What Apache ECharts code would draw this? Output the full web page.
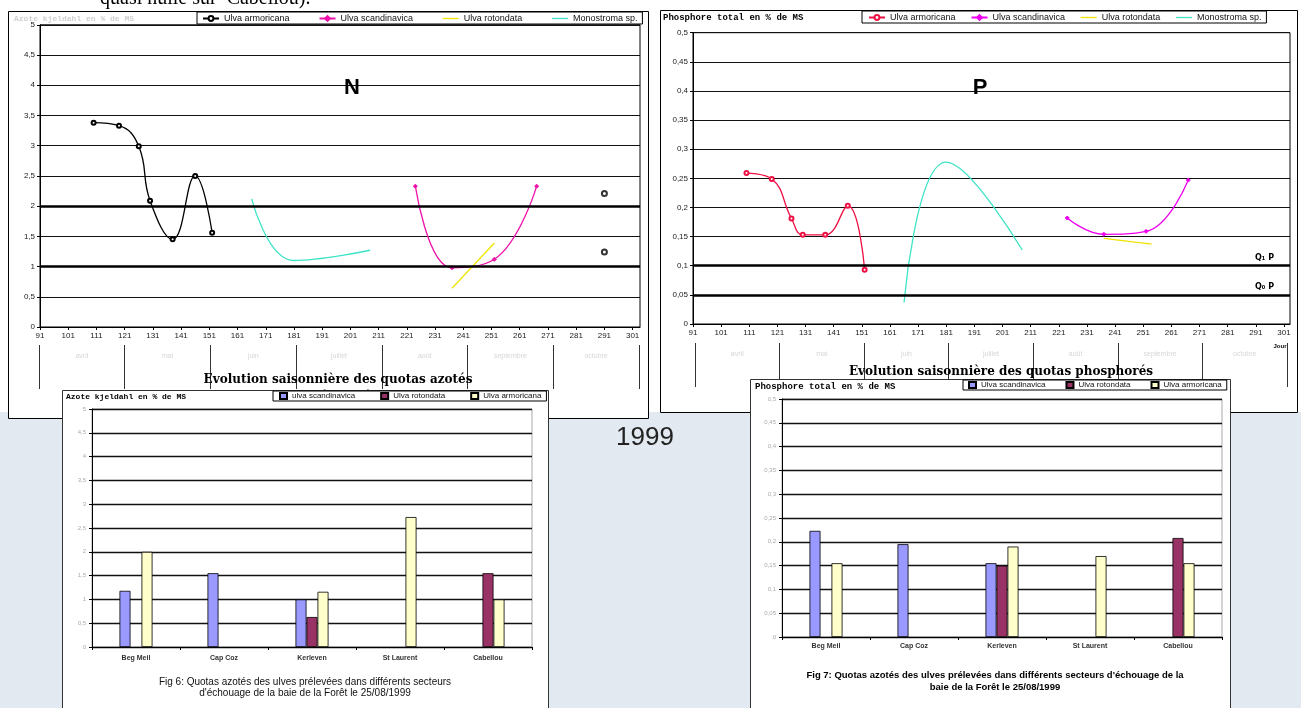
<!DOCTYPE html>
<html><head><meta charset="utf-8">
<script src="https://cdn.jsdelivr.net/npm/echarts@6/dist/echarts.min.js"></script>
<style>html,body{margin:0;padding:0;background:#fff}#c{width:1301px;height:708px}</style>
</head><body><div id="c"></div>
<script>
// ---------- DATA ----------
const DAY0 = 91; // first day shown on the x axes (day of year)
const months = ['avril','mai','juin','juillet','août','septembre','octobre'];

// N (azote) seasonal, % of dry matter
const nArmoDays = [110, 119, 126, 130, 138, 146, 152];
const nArmoVals = [3.38, 3.33, 2.99, 2.09, 1.45, 2.50, 1.56];
const nArmoLateDays = [291, 291];
const nArmoLateVals = [2.21, 1.24];
const nScanDays = [224, 237, 252, 267];
const nScanVals = [2.33, 0.98, 1.12, 2.33];
const nRotoDays = [237, 252];
const nRotoVals = [0.64, 1.39];
const nMonoDays = [166, 181, 208];
const nMonoVals = [2.12, 1.10, 1.27];

// P (phosphore) seasonal, % of dry matter
const pArmoDays = [110, 119, 126, 130, 138, 146, 152];
const pArmoVals = [0.259, 0.249, 0.181, 0.153, 0.153, 0.203, 0.093];
const pScanDays = [224, 237, 252, 267];
const pScanVals = [0.182, 0.154, 0.159, 0.247];
const pRotoDays = [237, 254];
const pRotoVals = [0.147, 0.137];
const pMonoDays = [166, 181, 208];
const pMonoVals = [0.037, 0.278, 0.127];

// Bars 25/08/1999
const sites = ['Beg Meil', 'Cap Coz', 'Kerleven', 'St Laurent', 'Cabellou'];
const barNScan = [1.18, 1.55, 1.00, null, null];
const barNRoto = [null, null, 0.63, null, 1.55];
const barNArmo = [2.00, null, 1.16, 2.73, 1.00];
const barPScan = [0.223, 0.195, 0.155, null, null];
const barPRoto = [null, null, 0.150, null, 0.208];
const barPArmo = [0.155, null, 0.190, 0.170, 0.155];

// thresholds
const nThresh = [2, 1];
const pThresh = [0.1, 0.05];

// ---------- BUILD ----------
const pts = (d, v) => d.map((x, i) => [x - DAY0, v[i]]);
const comma = v => String(+(+v).toFixed(3)).replace('.', ',');
const dayFmt = v => (Math.abs(v % 10) < 1e-6 ? String(Math.round(v) + DAY0) : '');
const ZW = '\u200b';

const C_BLACK = '#000000', C_RED = '#ee1144', C_MAG_N = '#ee11aa', C_MAG_P = '#ee00ee',
      C_YEL = '#f0e400', C_CYAN = '#3de3c6';
const C_BSCAN = '#9999ff', C_BROTO = '#993366', C_BARMO = '#ffffcc';

const tickFont = {fontSize: 8, color: '#222', fontFamily: 'Liberation Sans'};

function lineX(grid, max) {
  return {type: 'value', gridIndex: grid, min: 0, max: max, interval: 10, z: 2,
    axisLine: {show: true, lineStyle: {color: '#000', width: 1}},
    axisTick: {show: true, length: 3, lineStyle: {color: '#000'}},
    splitLine: {show: false},
    axisLabel: Object.assign({margin: 5, formatter: dayFmt, showMaxLabel: false}, tickFont)};
}
function lineY(grid, max, interval) {
  return {type: 'value', gridIndex: grid, min: 0, max: max, interval: interval, z: 2,
    axisLine: {show: true, lineStyle: {color: '#000', width: 1}},
    axisTick: {show: true, length: 3, lineStyle: {color: '#000'}},
    splitLine: {show: true, lineStyle: {color: '#111', width: 1.2}},
    axisLabel: Object.assign({margin: 5, formatter: comma}, tickFont)};
}
function monthX(grid) {
  return {type: 'category', gridIndex: grid, data: months, boundaryGap: true, z: 2,
    axisLine: {show: false},
    axisTick: {show: true, interval: 0, length: 44, lineStyle: {color: '#333', width: 1}},
    axisLabel: {interval: 0, margin: 8, fontSize: 7, color: '#d6d6d6', fontFamily: 'Liberation Sans'},
    splitLine: {show: false}};
}
function hiddenY(grid) { return {type: 'value', gridIndex: grid, show: false, min: 0, max: 1}; }
function barX(grid, margin) {
  return {type: 'category', gridIndex: grid, data: sites, z: 22,
    axisLine: {show: true, lineStyle: {color: '#000'}},
    axisTick: {show: true, interval: 0, length: 3, lineStyle: {color: '#000'}},
    axisLabel: {interval: 0, margin: margin, fontSize: 7, fontWeight: 'bold', color: '#333', fontFamily: 'Liberation Sans'},
    splitLine: {show: false}};
}
function barY(grid, max, interval) {
  return {type: 'value', gridIndex: grid, min: 0, max: max, interval: interval, z: 22,
    axisLine: {show: true, lineStyle: {color: '#000'}},
    axisTick: {show: true, length: 3, lineStyle: {color: '#000'}},
    splitLine: {show: true, lineStyle: {color: '#111', width: 1.3}},
    axisLabel: {margin: 6, fontSize: 6, color: '#aaa', formatter: comma, fontFamily: 'Liberation Sans'}};
}
function thickLines(vals, labels, padRight) {
  return {silent: true, symbol: 'none', animation: false,
    lineStyle: {color: '#000', width: 2.6, type: 'solid'},
    data: vals.map((v, i) => ({yAxis: v,
      label: labels ? {show: true, formatter: labels[i], position: 'insideEndTop', distance: 4,
        padding: [0, padRight || 0, 0, 0],
        fontSize: 8, fontWeight: 'bold', color: '#000', fontFamily: 'DejaVu Sans'} : {show: false}}))};
}
function lineSeries(name, x, y, data, color, symbol, extra) {
  return Object.assign({type: 'line', name: name, xAxisIndex: x, yAxisIndex: y, data: data,
    smooth: 0.45, z: 3, symbol: symbol || 'none', symbolSize: 4, showSymbol: !!symbol,
    lineStyle: {color: color, width: 1.3}, itemStyle: {color: color, borderColor: color, borderWidth: 1},
    emphasis: {disabled: true}}, extra || {});
}
function barSeries(name, x, y, data, color, extra) {
  return Object.assign({type: 'bar', name: name, xAxisIndex: x, yAxisIndex: y, data: data,
    barWidth: 11, barGap: '0%', z: 23,
    itemStyle: {color: color, borderColor: '#000', borderWidth: 0.8},
    emphasis: {disabled: true}}, extra || {});
}
// legend entries; plain-line series get a bare line icon
function lineLegendItems(names, colors) {
  return names.map((n, i) => i < 2 ? {name: n} :
    {name: n, icon: 'line', itemStyle: {color: colors[i], borderColor: colors[i], borderWidth: 1.3}});
}

const nLineNames = ['Ulva armoricana', 'Ulva scandinavica', 'Ulva rotondata', 'Monostroma sp.'];
const pLineNames = nLineNames.map(n => n + ZW);
const nBarNames = ['ulva scandinavica', 'Ulva rotondata' + ZW + ZW, 'Ulva armoricana' + ZW + ZW];
const pBarNames = ['Ulva scandinavica' + ZW + ZW, 'Ulva rotondata' + ZW + ZW + ZW, 'Ulva armoricana' + ZW + ZW + ZW];

const legendBase = {orient: 'horizontal', borderColor: '#000', borderWidth: 1, backgroundColor: '#fff',
  selectedMode: false,
  textStyle: {fontSize: 9, color: '#111', fontFamily: 'Liberation Sans'}};

const option = {
  animation: false,
  grid: [
    {left: 40, top: 24.8, width: 600, height: 302.2, show: true, borderColor: '#000', borderWidth: 1, z: 2},
    {left: 693, top: 32.7, width: 597, height: 291.3, show: true, borderColor: '#000', borderWidth: 1, z: 2},
    {left: 39, top: 335, width: 600, height: 10, z: 2},
    {left: 695, top: 333, width: 592, height: 10, z: 2},
    {left: 92, top: 409, width: 440, height: 238, show: true, borderColor: '#aaa', borderWidth: 1, z: 21},
    {left: 782, top: 399, width: 440, height: 238, show: true, borderColor: '#aaa', borderWidth: 1, z: 21}
  ],
  xAxis: [lineX(0, 600 / 2.822), lineX(1, 597 / 2.814), monthX(2), monthX(3), barX(4, 8), barX(5, 6)],
  yAxis: [lineY(0, 5, 0.5), lineY(1, 0.5, 0.05), hiddenY(2), hiddenY(3), barY(4, 5, 0.5), barY(5, 0.5, 0.05)],
  legend: [
    Object.assign({}, legendBase, {left: 197, top: 12, padding: [2, 5, 1, 5], itemWidth: 16, itemHeight: 6, itemGap: 29,
      data: lineLegendItems(nLineNames, [C_BLACK, C_MAG_N, C_YEL, C_CYAN]), z: 4}),
    Object.assign({}, legendBase, {left: 862, top: 11, padding: [2, 5, 1, 6], itemWidth: 16, itemHeight: 6, itemGap: 15,
      data: lineLegendItems(pLineNames, [C_RED, C_MAG_P, C_YEL, C_CYAN]), z: 4}),
    Object.assign({}, legendBase, {left: 273, top: 391, padding: [1, 5, 1, 6], itemWidth: 7, itemHeight: 6, icon: 'rect', itemGap: 25,
      textStyle: {fontSize: 8, color: '#111', fontFamily: 'Liberation Sans'},
      data: nBarNames, z: 24}),
    Object.assign({}, legendBase, {left: 963, top: 380, padding: [1, 5, 1, 5], itemWidth: 7, itemHeight: 6, icon: 'rect', itemGap: 20,
      textStyle: {fontSize: 8, color: '#111', fontFamily: 'Liberation Sans'},
      data: pBarNames, z: 24})
  ],
  series: [
    // N seasonal
    lineSeries(nLineNames[0], 0, 0, pts(nArmoDays, nArmoVals), C_BLACK, 'emptyCircle',
      {markLine: thickLines(nThresh, null)}),
    {type: 'scatter', name: nLineNames[0], xAxisIndex: 0, yAxisIndex: 0, data: pts(nArmoLateDays, nArmoLateVals),
      symbol: 'emptyCircle', symbolSize: 5, z: 3, itemStyle: {color: '#000', borderColor: '#000', borderWidth: 1.2}},
    lineSeries(nLineNames[1], 0, 0, pts(nScanDays, nScanVals), C_MAG_N, 'diamond'),
    lineSeries(nLineNames[2], 0, 0, pts(nRotoDays, nRotoVals), C_YEL, null, {smooth: false}),
    lineSeries(nLineNames[3], 0, 0, pts(nMonoDays, nMonoVals), C_CYAN, null),
    // P seasonal
    lineSeries(pLineNames[0], 1, 1, pts(pArmoDays, pArmoVals), C_RED, 'emptyCircle',
      {markLine: thickLines(pThresh, ['Q\u2081 P', 'Q\u2080 P'], 12)}),
    lineSeries(pLineNames[1], 1, 1, pts(pScanDays, pScanVals), C_MAG_P, 'diamond'),
    lineSeries(pLineNames[2], 1, 1, pts(pRotoDays, pRotoVals), C_YEL, null, {smooth: false}),
    lineSeries(pLineNames[3], 1, 1, pts(pMonoDays, pMonoVals), C_CYAN, null),
    // N bars
    barSeries(nBarNames[0], 4, 4, barNScan, C_BSCAN, {markLine: thickLines(nThresh, ['Q\u2081 N', 'Q\u2080 N'], 2)}),
    barSeries(nBarNames[1], 4, 4, barNRoto, C_BROTO),
    barSeries(nBarNames[2], 4, 4, barNArmo, C_BARMO),
    // P bars
    barSeries(pBarNames[0], 5, 5, barPScan, C_BSCAN, {markLine: thickLines(pThresh, ['Q\u2081 P', 'Q\u2080 P'], 2)}),
    barSeries(pBarNames[1], 5, 5, barPRoto, C_BROTO),
    barSeries(pBarNames[2], 5, 5, barPArmo, C_BARMO)
  ],
  graphic: [
    {type: 'rect', z: 0, silent: true, shape: {x: 0, y: 412, width: 1301, height: 296}, style: {fill: '#e2e9f1'}},
    {type: 'rect', z: 1, silent: true, shape: {x: 8.5, y: 11.5, width: 640, height: 407}, style: {fill: '#fff', stroke: '#000', lineWidth: 1}},
    {type: 'rect', z: 1, silent: true, shape: {x: 660.5, y: 10.5, width: 637, height: 402}, style: {fill: '#fff', stroke: '#000', lineWidth: 1}},
    {type: 'text', z: 1, silent: true, left: 100, top: -11, style: {text: 'quasi nulle sur  Cabellou).', fill: '#000', font: '20px "Liberation Serif"'}},
    {type: 'text', z: 3, silent: true, left: 14, top: 15, style: {text: 'Azote kjeldahl en % de MS', fill: '#d0d0d0', font: 'bold 8px "Liberation Mono"'}},
    {type: 'text', z: 3, silent: true, left: 663, top: 13, style: {text: 'Phosphore total en % de MS', fill: '#000', font: 'bold 9px "Liberation Mono"'}},
    {type: 'text', z: 3, silent: true, x: 352, y: 88, style: {text: 'N', fill: '#000', font: 'bold 22px "Liberation Sans"', align: 'center', verticalAlign: 'middle'}},
    {type: 'text', z: 3, silent: true, x: 980, y: 88, style: {text: 'P', fill: '#000', font: 'bold 22px "Liberation Sans"', align: 'center', verticalAlign: 'middle'}},
    {type: 'text', z: 3, silent: true, x: 338, y: 380, style: {text: 'Evolution saisonnière des quotas azotés', fill: '#000', font: 'bold 12px "DejaVu Serif"', align: 'center', verticalAlign: 'middle'}},
    {type: 'text', z: 3, silent: true, x: 338, y: 397, style: {text: 'chez les Ulves à Kerléven en 1999', fill: '#000', font: 'bold 12px "DejaVu Serif"', align: 'center', verticalAlign: 'middle'}},
    {type: 'text', z: 3, silent: true, x: 1001, y: 372, style: {text: 'Evolution saisonnière des quotas phosphorés', fill: '#000', font: 'bold 12px "DejaVu Serif"', align: 'center', verticalAlign: 'middle'}},
    {type: 'text', z: 3, silent: true, x: 1280, y: 346, style: {text: 'Jour', fill: '#000', font: 'bold 6px "Liberation Sans"', align: 'center', verticalAlign: 'middle'}},
    {type: 'text', z: 3, silent: true, x: 645, y: 438, style: {text: '1999', fill: '#222', font: '26px "Liberation Sans"', align: 'center', verticalAlign: 'middle'}},
    {type: 'rect', z: 20, silent: true, shape: {x: 62.5, y: 390.5, width: 486, height: 330}, style: {fill: '#fff', stroke: '#333', lineWidth: 1}},
    {type: 'rect', z: 20, silent: true, shape: {x: 750.5, y: 379.5, width: 480, height: 340}, style: {fill: '#fff', stroke: '#333', lineWidth: 1}},
    {type: 'text', z: 25, silent: true, left: 66, top: 393, style: {text: 'Azote kjeldahl en % de MS', fill: '#000', font: 'bold 8px "Liberation Mono"'}},
    {type: 'text', z: 25, silent: true, left: 755, top: 382, style: {text: 'Phosphore total en % de MS', fill: '#000', font: 'bold 9px "Liberation Mono"'}},
    {type: 'text', z: 25, silent: true, x: 305, y: 682, style: {text: 'Fig 6: Quotas azotés des ulves prélevées dans différents secteurs', fill: '#111', font: '10px "Liberation Sans"', align: 'center', verticalAlign: 'middle'}},
    {type: 'text', z: 25, silent: true, x: 305, y: 693, style: {text: "d'échouage de la baie de la Forêt le 25/08/1999", fill: '#111', font: '10px "Liberation Sans"', align: 'center', verticalAlign: 'middle'}},
    {type: 'text', z: 25, silent: true, x: 995, y: 675, style: {text: "Fig 7: Quotas azotés des ulves prélevées dans différents secteurs d'échouage de la", fill: '#000', font: 'bold 9.5px "Liberation Sans"', align: 'center', verticalAlign: 'middle'}},
    {type: 'text', z: 25, silent: true, x: 995, y: 687, style: {text: 'baie de la Forêt le 25/08/1999', fill: '#000', font: 'bold 9.5px "Liberation Sans"', align: 'center', verticalAlign: 'middle'}}
  ]
};

const chart = echarts.init(document.getElementById('c'), null, {renderer: 'canvas'});
chart.setOption(option);
</script></body></html>
